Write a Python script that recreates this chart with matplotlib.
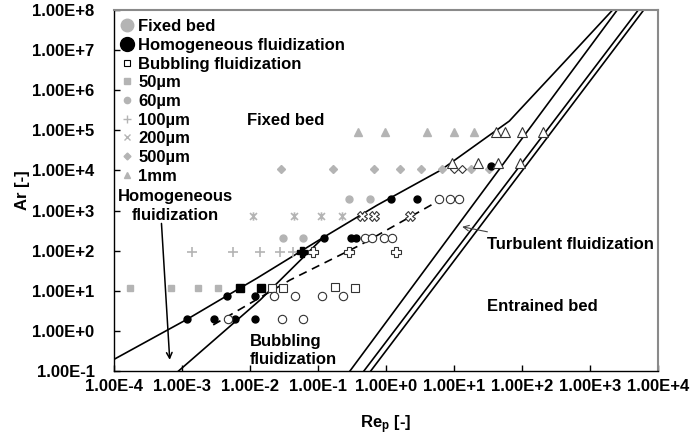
import numpy as np
import matplotlib
matplotlib.use("Agg")
import matplotlib.pyplot as plt
from matplotlib.lines import Line2D
from matplotlib.path import Path
from matplotlib.ticker import LogLocator, NullLocator, FuncFormatter

plt.rcParams['font.family'] = ['Liberation Sans', 'DejaVu Sans']
plt.rcParams['font.weight'] = 'bold'
plt.rcParams['mathtext.fontset'] = 'custom'
plt.rcParams['mathtext.rm'] = 'Liberation Sans:bold'
plt.rcParams['mathtext.bf'] = 'Liberation Sans:bold'
plt.rcParams['mathtext.it'] = 'Liberation Sans:bold'

# ---------------- data (Re_p, Ar) ----------------
# Fixed bed (grey filled)
fix_sq_re = [1.74e-4, 7.0e-4, 1.73e-3, 3.4e-3]
fix_sq_ar = [11.7, 11.7, 11.7, 11.7]
fix_ci_re = [0.0303, 0.0611, 0.282, 0.575]
fix_ci_ar = [202, 202, 1890, 1890]
fix_pl_re = [1.38e-3, 5.56e-3, 0.0140, 0.0277, 0.043]
fix_pl_ar = [93, 93, 93, 93, 93]
fix_x_re = [0.011, 0.0443, 0.109, 0.2275]
fix_x_ar = [740, 740, 740, 740]
fix_di_re = [0.0284, 0.166, 0.659, 1.58, 3.30, 6.72, 17.6, 32.4]
fix_di_ar = [10700] * 8
fix_tr_re = [0.383, 0.98, 3.98, 10.1, 19.9]
fix_tr_ar = [90700] * 5

# Homogeneous fluidization (black filled)
hom_sq_re = [7.1e-3, 0.0145]
hom_sq_ar = [11.7, 11.7]
hom_ci_re = [1.19e-3, 2.97e-3, 6.0e-3, 0.0119, 4.53e-3, 0.01165, 0.121, 0.309, 0.360, 1.18, 2.88, 34.7]
hom_ci_ar = [1.95, 1.95, 1.95, 1.95, 7.4, 7.4, 202, 202, 202, 1890, 1890, 12700]
hom_pl_re = [0.058]
hom_pl_ar = [93]

# Bubbling fluidization (open)
bub_sq_re = [0.0209, 0.031, 0.180, 0.354]
bub_sq_ar = [11.7, 11.7, 12.6, 11.7]
bub_ci_re = [4.79e-3, 0.0299, 0.0611, 0.0228, 0.0461, 0.114, 0.233,
             0.497, 0.630, 0.925, 1.23, 5.98, 8.75, 11.8]
bub_ci_ar = [1.95, 1.95, 1.95, 7.4, 7.4, 7.4, 7.4,
             202, 202, 202, 202, 1890, 1890, 1890]
bub_pl_re = [0.0841, 0.282, 1.42]
bub_pl_ar = [93, 93, 93]
bub_x_re = [0.449, 0.675, 2.29]
bub_x_ar = [740, 740, 740]
bub_di_re = [9.97, 13.2]
bub_di_ar = [10700, 10700]
bub_tr_re = [9.37, 22.7, 44.7, 93.3, 41.1, 55.7, 101.6, 203]
bub_tr_ar = [15400, 15400, 15400, 15400, 90700, 90700, 90700, 90700]

# Boundary lines (Re_p, Ar)
umf_re = [1e-4, 1.19e-3, 4.53e-3, 0.0126, 0.120, 0.74, 6.34, 38.7, 65.0, 91.2, 417, 2109]
umf_ar = [0.195, 1.95, 7.43, 20.5, 214, 1360, 10100, 90800, 1.7e5, 3.16e5, 5.0e6, 9.66e7]
umb_re = [8.9e-4, 0.0141, 0.120]
umb_ar = [0.1, 5.9, 214]
dash_re = [2.88e-3, 0.0389, 0.417, 5.06]
dash_ar = [1.41, 18.6, 138, 1500]
turbA_re = [0.295, 2512]
turbB_re = [0.473, 5130]
turbC_re = [0.596, 6166]
turb_ar = [0.1, 1e8]

legend_labels = ['Fixed bed', 'Homogeneous fluidization', 'Bubbling fluidization',
                 '50µm', '60µm', '100µm', '200µm', '500µm', '1mm']

# ---------------- figure ----------------
fig = plt.figure(figsize=(6.91, 4.37), dpi=100)
ax = fig.add_axes([114 / 691, 66 / 437, 544 / 691, 361 / 437])

GREY = '#b4b4b4'
xmark = Path([(-1, -1), (1, 1), (-1, 1), (1, -1), (0, -1.2), (0, 1.2)],
             [Path.MOVETO, Path.LINETO, Path.MOVETO, Path.LINETO, Path.MOVETO, Path.LINETO])

# lines
lw = 1.2
ax.plot(umf_re, umf_ar, color='black', lw=lw, zorder=2)
ax.plot(umb_re, umb_ar, color='black', lw=lw, zorder=2)
ax.plot(dash_re, dash_ar, color='black', lw=lw, ls=(0, (5, 3.5)), zorder=2)
for r in (turbA_re, turbB_re, turbC_re):
    ax.plot(r, turb_ar, color='black', lw=lw, zorder=2)

# fixed bed markers
kw = dict(ls='none', zorder=3)
ax.plot(fix_sq_re, fix_sq_ar, marker='s', ms=5, mfc=GREY, mec=GREY, **kw)
ax.plot(fix_ci_re, fix_ci_ar, marker='o', ms=5, mfc=GREY, mec=GREY, **kw)
ax.plot(fix_pl_re, fix_pl_ar, marker='+', ms=7, mec=GREY, mew=1.2, **kw)
ax.plot(fix_x_re, fix_x_ar, marker=xmark, ms=6, mec=GREY, mew=1.2, **kw)
ax.plot(fix_di_re, fix_di_ar, marker='D', ms=4, mfc=GREY, mec=GREY, **kw)
ax.plot(fix_tr_re, fix_tr_ar, marker='^', ms=6, mfc=GREY, mec=GREY, **kw)

# homogeneous markers
ax.plot(hom_sq_re, hom_sq_ar, marker='s', ms=5.5, mfc='black', mec='black', **kw)
ax.plot(hom_ci_re, hom_ci_ar, marker='o', ms=5, mfc='black', mec='black', **kw)
ax.plot(hom_pl_re, hom_pl_ar, marker='P', ms=6.5, mfc='black', mec='black', **kw)

# bubbling markers
okw = dict(mfc='white', mec='#333333', mew=0.8, ls='none', zorder=4)
ax.plot(bub_sq_re, bub_sq_ar, marker='s', ms=6, **okw)
ax.plot(bub_ci_re, bub_ci_ar, marker='o', ms=6, **okw)
ax.plot(bub_pl_re, bub_pl_ar, marker='P', ms=6.5, **okw)
ax.plot(bub_x_re, bub_x_ar, marker='X', ms=6.5, **okw)
ax.plot(bub_di_re, bub_di_ar, marker='D', ms=4.5, **okw)
ax.plot(bub_tr_re, bub_tr_ar, marker='^', ms=6.5, **okw)

# scales & ticks
ax.set_xscale('log')
ax.set_yscale('log')
ax.set_xlim(1e-4, 1e4)
ax.set_ylim(1e-1, 1e8)
ax.xaxis.set_major_locator(LogLocator(base=10, numticks=20))
ax.yaxis.set_major_locator(LogLocator(base=10, numticks=20))
ax.xaxis.set_minor_locator(NullLocator())
ax.yaxis.set_minor_locator(NullLocator())


def fmt(v, pos):
    e = int(round(np.log10(v)))
    return '1.00E%+d' % e


ax.xaxis.set_major_formatter(FuncFormatter(fmt))
ax.yaxis.set_major_formatter(FuncFormatter(fmt))
ax.tick_params(axis='both', which='major', direction='in', length=4, width=1,
               labelsize=12, colors='black')
ax.tick_params(axis='x', pad=6)
ax.tick_params(axis='y', pad=14)
for s in ('left', 'bottom'):
    ax.spines[s].set_color('black')
    ax.spines[s].set_linewidth(1)
for s in ('top', 'right'):
    ax.spines[s].set_color('#8a8a8a')
    ax.spines[s].set_linewidth(1.5)

ax.set_xlabel('Re$_\\mathregular{p}$ [-]', fontsize=12, fontweight='bold', labelpad=14)
ax.set_ylabel('Ar [-]', fontsize=12, fontweight='bold', labelpad=2)

# region labels
tkw = dict(fontsize=12, fontweight='bold', color='black')
ax.text(0.034, 1.77e5, 'Fixed bed', ha='center', va='center', **tkw)
ax.text(8.1e-4, 2190, 'Homogeneous', ha='center', va='center', **tkw)
ax.text(8.1e-4, 740, 'fluidization', ha='center', va='center', **tkw)
ax.text(0.00985, 0.54, 'Bubbling', ha='left', va='center', **tkw)
ax.text(0.00985, 0.19, 'fluidization', ha='left', va='center', **tkw)
ax.text(30.3, 146, 'Turbulent fluidization', ha='left', va='center', **tkw)
ax.text(31.0, 4.02, 'Entrained bed', ha='left', va='center', **tkw)

ax.annotate('', xy=(6.6e-4, 0.19), xytext=(4.99e-4, 477),
            arrowprops=dict(arrowstyle='->', color='black', lw=1.1,
                            shrinkA=0, shrinkB=0))
ax.annotate('', xy=(13.2, 394), xytext=(31.0, 295),
            arrowprops=dict(arrowstyle='->', color='#444444', lw=0.8,
                            shrinkA=0, shrinkB=0))

# legend
handles = [
    Line2D([], [], ls='none', marker='o', ms=9, mfc=GREY, mec=GREY),
    Line2D([], [], ls='none', marker='o', ms=10, mfc='black', mec='black'),
    Line2D([], [], ls='none', marker='s', ms=4.5, mfc='white', mec='black', mew=0.8),
    Line2D([], [], ls='none', marker='s', ms=4.5, mfc=GREY, mec=GREY),
    Line2D([], [], ls='none', marker='o', ms=4.5, mfc=GREY, mec=GREY),
    Line2D([], [], ls='none', marker='+', ms=6, mec=GREY, mew=1.0),
    Line2D([], [], ls='none', marker='x', ms=4.5, mec=GREY, mew=1.0),
    Line2D([], [], ls='none', marker='D', ms=3.5, mfc=GREY, mec=GREY),
    Line2D([], [], ls='none', marker='^', ms=4.5, mfc=GREY, mec=GREY),
]
leg = ax.legend(handles, legend_labels, loc='upper left', bbox_to_anchor=(0.0, 0.988),
                frameon=False, handlelength=0.9, handletextpad=0.25,
                labelspacing=0.22, borderpad=0.1, borderaxespad=0.2,
                prop={'weight': 'bold', 'size': 12})

fig.savefig('out.png', dpi=100)
